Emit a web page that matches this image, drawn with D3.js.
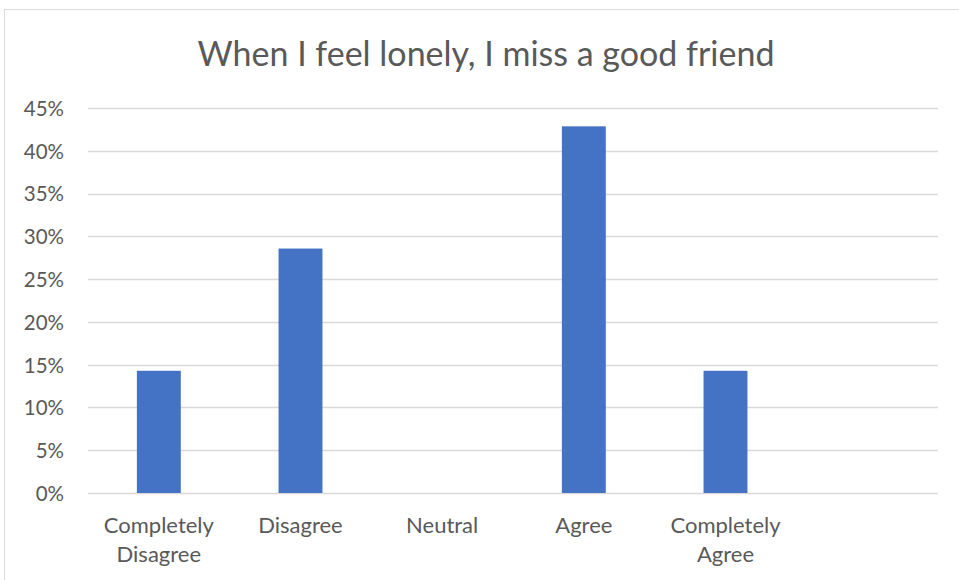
<!DOCTYPE html>
<html>
<head>
<meta charset="utf-8">
<script src="https://cdn.jsdelivr.net/npm/d3@7"></script>
<style>
  html, body { margin: 0; padding: 0; background: #fff; }
  svg { display: block; }
  text { font-family: Lato, "Open Sans", sans-serif; fill: #595959; }
</style>
</head>
<body>
<svg id="chart" width="959" height="580"></svg>
<script>
// Survey responses (share of respondents)
const title = "When I feel lonely, I miss a good friend";
const categories = ["Completely Disagree", "Disagree", "Neutral", "Agree", "Completely Agree", ""];
const shares = [1/7, 2/7, 0, 3/7, 1/7, null];
const yTicks = [0, 0.05, 0.10, 0.15, 0.20, 0.25, 0.30, 0.35, 0.40, 0.45];

const svg = d3.select("#chart");
const W = 959, H = 580;
const margin = { left: 88, right: 21, top: 108, bottom: 87 };

// Chart frame
svg.append("rect")
  .attr("x", 4.5).attr("y", 9.5)
  .attr("width", W + 10).attr("height", H + 10)
  .attr("fill", "#fff").attr("stroke", "#d9d9d9").attr("stroke-width", 1);

svg.append("text")
  .attr("x", 486).attr("y", 65.5)
  .attr("text-anchor", "middle")
  .attr("font-size", 34)
  .text(title);

const x = d3.scaleBand()
  .domain(categories.map((c, i) => i))
  .range([margin.left, W - margin.right])
  .paddingInner(0.69).paddingOuter(0.345);

const y = d3.scaleLinear()
  .domain([0, 0.45])
  .range([H - margin.bottom, margin.top]);

// Gridlines
svg.append("g")
  .selectAll("line")
  .data(yTicks)
  .join("line")
  .attr("x1", margin.left).attr("x2", W - margin.right)
  .attr("y1", d => Math.round(y(d)) + 0.5).attr("y2", d => Math.round(y(d)) + 0.5)
  .attr("stroke", "#d9d9d9").attr("stroke-width", 1.3);

// Y axis labels
const yAxis = d3.axisLeft(y).tickValues(yTicks).tickFormat(d3.format(".0%")).tickSize(0).tickPadding(24);
const gy = svg.append("g").attr("transform", `translate(${margin.left},0)`).call(yAxis);
gy.select(".domain").remove();
gy.selectAll("text")
  .attr("font-size", 20.5).attr("fill", "#595959")
  .attr("font-family", "Lato, sans-serif")
  .attr("dy", "0.36em");

// Bars
svg.append("g")
  .selectAll("rect")
  .data(shares.map((v, i) => ({ i, v })).filter(d => d.v != null && d.v > 0))
  .join("rect")
  .attr("x", d => x(d.i))
  .attr("width", x.bandwidth())
  .attr("y", d => y(d.v))
  .attr("height", d => y(0) - y(d.v))
  .attr("fill", "#4472c4");

// X category labels (wrapped onto two lines)
const xl = svg.append("g");
categories.forEach((c, i) => {
  if (!c) return;
  const cx = x(i) + x.bandwidth() / 2;
  const words = c.split(" ");
  const t = xl.append("text")
    .attr("text-anchor", "middle")
    .attr("font-size", 22)
    .attr("x", cx).attr("y", 533);
  words.forEach((w, k) => {
    t.append("tspan").attr("x", cx).attr("dy", k === 0 ? 0 : 28.5).text(w);
  });
});
</script>
</body>
</html>
